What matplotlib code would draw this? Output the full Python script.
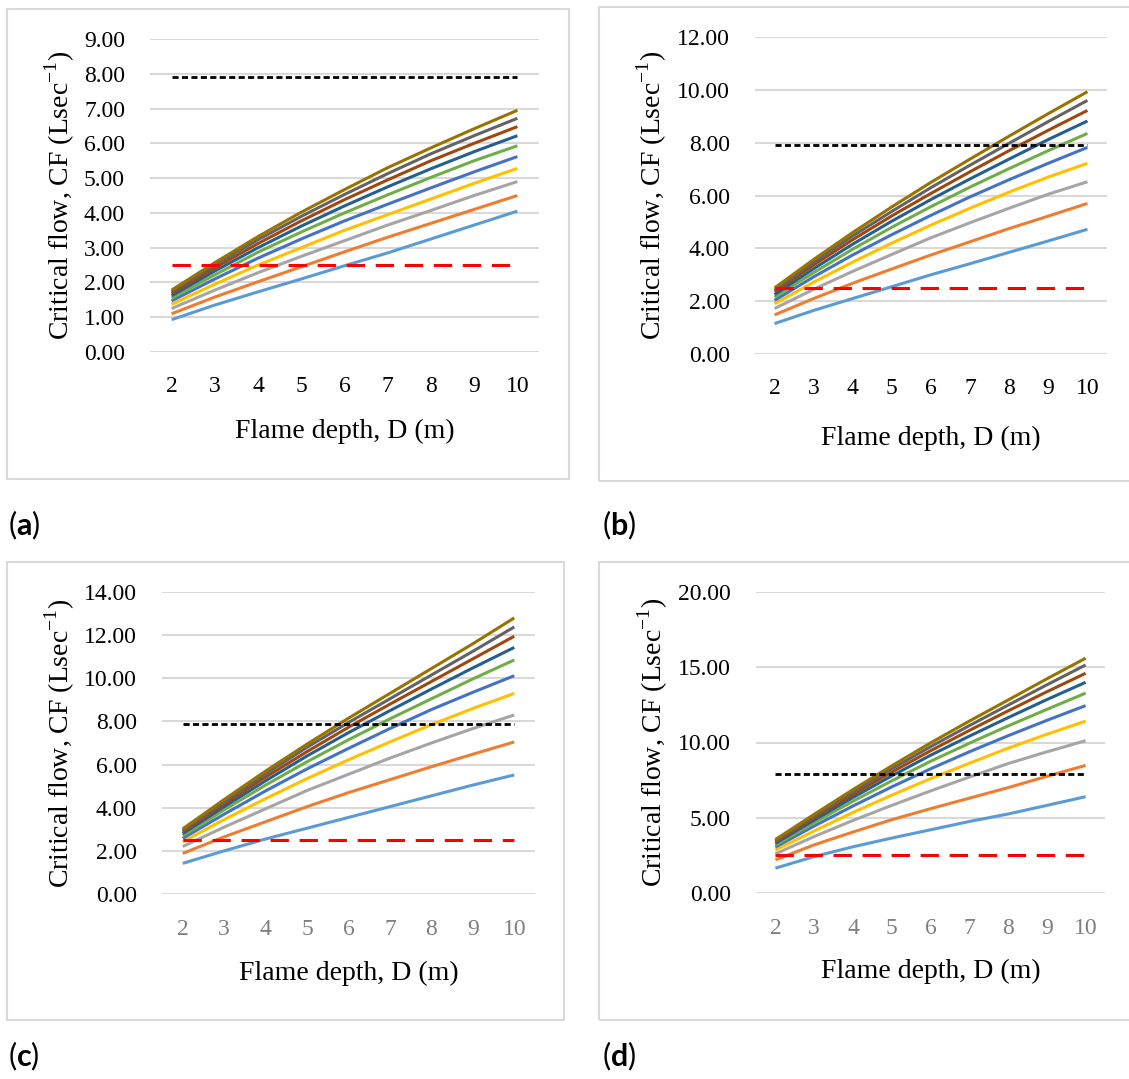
import matplotlib
matplotlib.use('Agg')
import matplotlib.pyplot as plt
from matplotlib.patches import Rectangle

plt.rcParams['font.family'] = ['Liberation Serif', 'DejaVu Serif']
plt.rcParams['mathtext.fontset'] = 'custom'
plt.rcParams['mathtext.rm'] = 'Liberation Serif'
plt.rcParams['mathtext.bf'] = 'Lato:bold'

# Flame depth D (m)
depth = [2, 3, 4, 5, 6, 7, 8, 9, 10]

# (a) critical flow, one list per curve (bottom to top)
a_s1 = [0.93, 1.35, 1.73, 2.10, 2.48, 2.85, 3.25, 3.65, 4.05]
a_s2 = [1.10, 1.58, 2.02, 2.45, 2.88, 3.30, 3.70, 4.10, 4.50]
a_s3 = [1.25, 1.78, 2.28, 2.75, 3.20, 3.65, 4.07, 4.50, 4.90]
a_s4 = [1.37, 1.95, 2.50, 3.00, 3.50, 3.95, 4.40, 4.85, 5.28]
a_s5 = [1.47, 2.10, 2.70, 3.25, 3.77, 4.25, 4.72, 5.18, 5.62]
a_s6 = [1.55, 2.22, 2.87, 3.45, 4.00, 4.52, 5.02, 5.50, 5.93]
a_s7 = [1.62, 2.33, 3.00, 3.62, 4.20, 4.75, 5.27, 5.76, 6.22]
a_s8 = [1.68, 2.42, 3.12, 3.77, 4.38, 4.95, 5.50, 6.00, 6.48]
a_s9 = [1.73, 2.50, 3.23, 3.90, 4.53, 5.13, 5.70, 6.22, 6.72]
a_s10 = [1.78, 2.57, 3.32, 4.02, 4.67, 5.30, 5.87, 6.42, 6.95]

# (b)
b_s1 = [1.15, 1.65, 2.10, 2.55, 3.00, 3.42, 3.85, 4.28, 4.72]
b_s2 = [1.48, 2.10, 2.68, 3.22, 3.75, 4.25, 4.75, 5.22, 5.70]
b_s3 = [1.72, 2.45, 3.13, 3.77, 4.40, 4.97, 5.52, 6.05, 6.52]
b_s4 = [1.90, 2.72, 3.48, 4.20, 4.88, 5.52, 6.13, 6.70, 7.22]
b_s5 = [2.03, 2.92, 3.75, 4.52, 5.25, 5.95, 6.60, 7.22, 7.82]
b_s6 = [2.15, 3.08, 3.97, 4.80, 5.58, 6.32, 7.02, 7.70, 8.35]
b_s7 = [2.25, 3.23, 4.16, 5.03, 5.85, 6.63, 7.38, 8.12, 8.82]
b_s8 = [2.35, 3.37, 4.33, 5.23, 6.08, 6.90, 7.70, 8.47, 9.22]
b_s9 = [2.42, 3.48, 4.47, 5.40, 6.30, 7.15, 7.98, 8.80, 9.60]
b_s10 = [2.50, 3.58, 4.60, 5.57, 6.50, 7.38, 8.25, 9.10, 9.93]

# (c)
c_s1 = [1.42, 2.00, 2.55, 3.05, 3.55, 4.05, 4.55, 5.05, 5.52]
c_s2 = [1.88, 2.65, 3.35, 4.05, 4.70, 5.30, 5.90, 6.48, 7.05]
c_s3 = [2.20, 3.10, 3.95, 4.80, 5.55, 6.30, 7.00, 7.67, 8.30]
c_s4 = [2.42, 3.45, 4.42, 5.35, 6.22, 7.05, 7.85, 8.60, 9.30]
c_s5 = [2.58, 3.70, 4.78, 5.80, 6.75, 7.67, 8.55, 9.35, 10.12]
c_s6 = [2.70, 3.90, 5.05, 6.13, 7.15, 8.12, 9.05, 9.97, 10.85]
c_s7 = [2.80, 4.05, 5.25, 6.40, 7.48, 8.50, 9.50, 10.48, 11.43]
c_s8 = [2.88, 4.18, 5.42, 6.60, 7.73, 8.80, 9.85, 10.90, 11.95]
c_s9 = [2.95, 4.28, 5.57, 6.80, 7.95, 9.05, 10.15, 11.25, 12.38]
c_s10 = [3.02, 4.38, 5.70, 6.95, 8.15, 9.30, 10.45, 11.60, 12.80]

# (d)
d_s1 = [1.65, 2.42, 3.07, 3.65, 4.20, 4.75, 5.25, 5.82, 6.40]
d_s2 = [2.20, 3.20, 4.05, 4.87, 5.60, 6.30, 7.00, 7.75, 8.48]
d_s3 = [2.60, 3.75, 4.82, 5.82, 6.78, 7.70, 8.60, 9.38, 10.12]
d_s4 = [2.85, 4.12, 5.35, 6.50, 7.60, 8.62, 9.62, 10.55, 11.42]
d_s5 = [3.05, 4.45, 5.78, 7.05, 8.25, 9.38, 10.45, 11.47, 12.45]
d_s6 = [3.18, 4.68, 6.10, 7.45, 8.75, 9.95, 11.10, 12.20, 13.28]
d_s7 = [3.30, 4.85, 6.35, 7.78, 9.15, 10.42, 11.65, 12.85, 14.00]
d_s8 = [3.40, 5.00, 6.55, 8.03, 9.45, 10.80, 12.10, 13.37, 14.60]
d_s9 = [3.48, 5.12, 6.72, 8.25, 9.72, 11.12, 12.48, 13.83, 15.15]
d_s10 = [3.55, 5.23, 6.87, 8.45, 9.97, 11.42, 12.82, 14.23, 15.60]

# reference levels
upper_level = 7.9
lower_level = 2.5

a_series = [a_s1, a_s2, a_s3, a_s4, a_s5, a_s6, a_s7, a_s8, a_s9, a_s10]
b_series = [b_s1, b_s2, b_s3, b_s4, b_s5, b_s6, b_s7, b_s8, b_s9, b_s10]
c_series = [c_s1, c_s2, c_s3, c_s4, c_s5, c_s6, c_s7, c_s8, c_s9, c_s10]
d_series = [d_s1, d_s2, d_s3, d_s4, d_s5, d_s6, d_s7, d_s8, d_s9, d_s10]

colors = ['#5B9BD5', '#ED7D31', '#A5A5A5', '#FFC000', '#4472C4',
          '#70AD47', '#255E91', '#9E480E', '#636363', '#997300']

W, H = 1129, 1079
fig = plt.figure(figsize=(W / 100, H / 100), dpi=100)


def rect(l, t, r, b):
    return [l / W, 1 - b / H, (r - l) / W, (b - t) / H]


# panel layout in pixels: plot area, box, label positions
panels = [
    dict(series=a_series, area=(150, 39, 539, 352), ymax=9, step=1, box=(6.5, 9, 569, 479),
         tick_y=388, xlab_y=431, ylab_x=60, tag='a', tag_xy=(8, 525), tickcol='black'),
    dict(series=b_series, area=(755, 37, 1107, 354), ymax=12, step=2, box=(599, 7, 1145, 481),
         tick_y=390, xlab_y=438, ylab_x=652, tag='b', tag_xy=(602, 525), tickcol='black'),
    dict(series=c_series, area=(162, 592, 535, 894), ymax=14, step=2, box=(6.5, 562, 564, 1020),
         tick_y=931, xlab_y=973, ylab_x=60, tag='c', tag_xy=(8, 1056), tickcol='#7F7F7F'),
    dict(series=d_series, area=(756, 592, 1105, 893), ymax=20, step=5, box=(599, 562, 1145, 1020),
         tick_y=930, xlab_y=971, ylab_x=653, tag='d', tag_xy=(602, 1056), tickcol='#7F7F7F'),
]

for p in panels:
    l, t, r, b = p['area']
    ax = fig.add_axes(rect(l, t, r, b))
    for vals, col in zip(p['series'], colors):
        ax.plot(depth, vals, color=col, lw=2.2, solid_capstyle='butt')
    ax.plot([depth[0], depth[-1]], [upper_level, upper_level], color='black', lw=2,
            linestyle=(0, (2.2, 1.2)))
    ax.plot([depth[0], depth[-1]], [lower_level, lower_level], color='#FF0000', lw=2.2,
            linestyle=(0, (6, 3.5)))
    ax.set_xlim(1.5, 10.5)
    ax.set_ylim(0, p['ymax'])
    ax.set_yticks(range(0, p['ymax'] + 1, p['step']))
    ax.set_yticklabels([f'{v:.2f}' for v in range(0, p['ymax'] + 1, p['step'])])
    ax.set_xticks(depth)
    ax.grid(axis='y', color='#D9D9D9', lw=1.5)
    ax.set_axisbelow(True)
    for s in ax.spines.values():
        s.set_visible(False)
    ax.tick_params(length=0, labelsize=17)
    ax.tick_params(axis='y', pad=18, colors='black')
    ax.tick_params(axis='x', pad=(p['tick_y'] - b - 12) * 0.72, labelcolor=p['tickcol'])
    ax.set_xlabel('Flame depth, D (m)', fontsize=20, va='center')
    ax.xaxis.set_label_coords(0.5, -(p['xlab_y'] - b) / (b - t))
    ax.set_ylabel('Critical flow, CF (Lsec$^{-1}$)', fontsize=20, va='center')
    ax.yaxis.set_label_coords(-(l - p['ylab_x']) / (r - l), 0.5)

    bl, bt, br, bb = p['box']
    fig.patches.append(Rectangle((bl / W, 1 - bb / H), (br - bl) / W, (bb - bt) / H,
                                 transform=fig.transFigure, fill=False,
                                 edgecolor='#D9D9D9', lw=1.5))
    tx, ty = p['tag_xy']
    fig.text(tx / W, 1 - ty / H, '($\\mathbf{' + p['tag'] + '}$)', fontsize=22,
             family='Lato', ha='left', va='center')

fig.savefig('out.png', dpi=100)
